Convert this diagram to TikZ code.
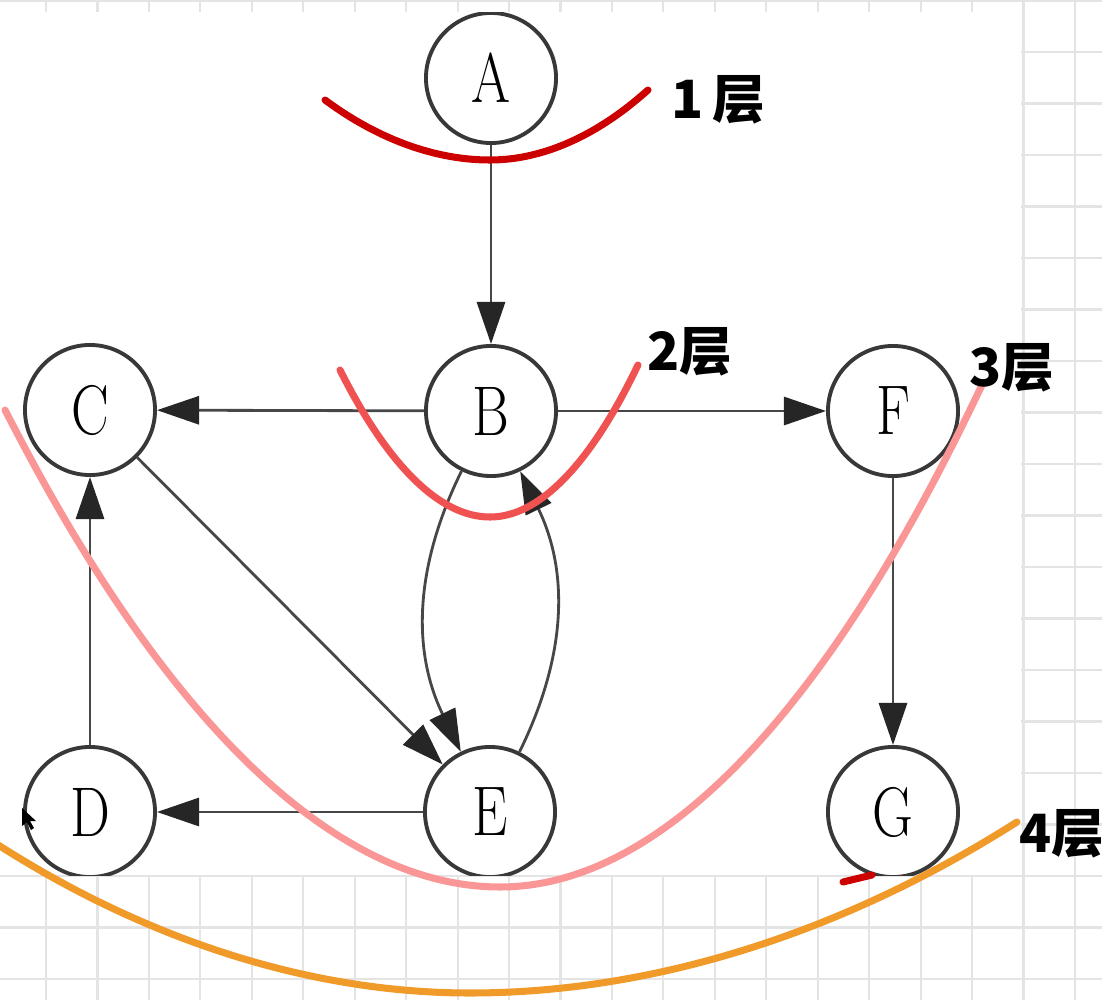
\documentclass[tikz,border=0pt]{standalone}
\usepackage{fontspec}
\newfontfamily\cjk{Noto Sans CJK SC}
\usepackage{graphicx}
\usetikzlibrary{arrows.meta}

\definecolor{layerone}{HTML}{CC0000}
\definecolor{layertwo}{HTML}{F05252}
\definecolor{layerthree}{HTML}{FA9696}
\definecolor{layerfour}{HTML}{F09A2A}
\definecolor{gridgray}{HTML}{E4E4E4}

\newcommand{\vname}[1]{\scalebox{0.8}[1]{#1}}

\begin{document}
\begin{tikzpicture}[
  x=0.01cm, y=-0.01cm,
  vertex/.style={circle, draw=black!78, line width=1.1pt, minimum size=1.3cm, inner sep=0pt, font=\fontsize{20}{20}\selectfont},
  link/.style={draw=black!72, line width=0.8pt, -{Triangle[length=12pt, width=8pt, color=black!85]}},
  layer/.style={line width=2pt, line cap=round},
  lbl/.style={font=\cjk\bfseries\fontsize{15}{15}\selectfont}
]
\useasboundingbox (0,0) rectangle (1102,1000);

% grid paper
\foreach \i in {0,...,20} \draw[gridgray, line width=0.6pt] (46+51.45*\i,0) -- (46+51.45*\i,1000);
\foreach \j in {0,...,19} \draw[gridgray, line width=0.6pt] (0,0.5+51.5*\j) -- (1102,0.5+51.5*\j);

% pasted graph
\begin{scope}
\clip (0,12) rectangle (1021,875);
\fill[white] (0,12) rectangle (1021,875);

\node[vertex] (A) at (491,78) {\vname{A}};
\node[vertex] (B) at (491,411) {\vname{B}};
\node[vertex] (C) at (90,410) {\vname{C}};
\node[vertex] (F) at (893,411) {\vname{F}};
\node[vertex] (D) at (90,812) {\vname{D}};
\node[vertex] (E) at (490,812) {\vname{E}};
\node[vertex] (G) at (893,812) {\vname{G}};

\draw[link] (A) -- (B);
\draw[link] (B) -- (C);
\draw[link] (B) -- (F);
\draw[link] (C) -- (E);
\draw[link] (B) to[bend right=26] (E);
\draw[link] (E) to[bend right=26] (B);
\draw[link] (F) -- (G);
\draw[link] (E) -- (D);
\draw[link] (D) -- (C);

% mouse pointer
\fill[black] (22,808) -- (22,826) -- (27,822) -- (31,830) -- (34,828) -- (30,821) -- (36,821) -- cycle;
\end{scope}

% layers
\draw[layer, layerone] (325,100) parabola bend (490,160) (648,90);
\draw[layer, layertwo] (340,370) parabola bend (490,517) (638,365);
\draw[layer, layerthree] (5,410) parabola bend (500,887) (982,385);
\draw[layer, layerfour] (-5,843) parabola bend (470,993) (1017,822);
\draw[layer, layerone] (843,882) -- (872,875);

\node[lbl] (one) at (718,100) {1\,层};
\node[lbl] (two) at (690,352) {2层};
\node[lbl] (three) at (1012,368) {3层};
\node[lbl] (four) at (1062,834) {4层};
\end{tikzpicture}
\end{document}
